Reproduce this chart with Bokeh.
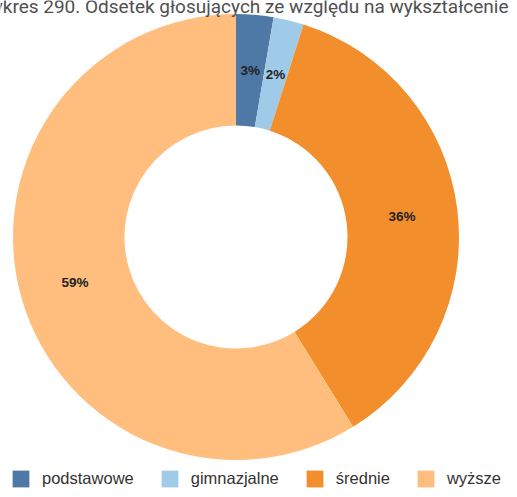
import math
from bokeh.plotting import figure
from bokeh.models import ColumnDataSource, Range1d, Legend, LegendItem
from bokeh.core.properties import value
from bokeh.embed import file_html
from bokeh.resources import INLINE

title_text = "Wykres 290. Odsetek głosujących ze względu na wykształcenie"
categories = ["podstawowe", "gimnazjalne", "średnie", "wyższe"]
shares = [2.7, 2.2, 36.3, 58.8]
colors = ["#4E79A7", "#A0CBE8", "#F28E2B", "#FFBE7D"]

W, H = 509, 489
CX, CY = 235.5, H - 236.5
R_OUT, R_IN = 223, 111.5

total = sum(shares)
starts, ends, lx, ly, labels = [], [], [], [], []
cum = 0.0
r_mid = (R_OUT + R_IN) / 2
for v in shares:
    a0 = math.pi / 2 - 2 * math.pi * cum / total
    cum += v
    a1 = math.pi / 2 - 2 * math.pi * cum / total
    starts.append(a0)
    ends.append(a1)
    am = (a0 + a1) / 2
    lx.append(CX + r_mid * math.cos(am))
    ly.append(CY + r_mid * math.sin(am))
    labels.append(f"{round(v / total * 100)}%")

src = ColumnDataSource(dict(cat=categories, start=starts, end=ends, color=colors,
                            lx=lx, ly=ly, label=labels))

p = figure(width=W, height=H, x_range=Range1d(0, W), y_range=Range1d(0, H),
           output_backend="svg", toolbar_location=None, min_border=0,
           x_axis_location=None, y_axis_location=None)
p.grid.visible = False
p.outline_line_color = None
p.background_fill_color = "white"
p.border_fill_color = "white"

wr = p.annular_wedge(x=CX, y=CY, inner_radius=R_IN, outer_radius=R_OUT,
                     start_angle="start", end_angle="end", direction="clock",
                     fill_color="color", line_color=None, source=src)

p.text(x="lx", y="ly", text="label", source=src, text_align="center",
       text_baseline="middle", text_font=value("Liberation Sans"),
       text_font_size="13.5px", text_font_style="bold", text_color="#222222")

p.text(x=[508], y=[H - 6], text=[title_text], text_align="right",
       text_baseline="alphabetic", text_font=value("Roboto"),
       text_font_size="19px", text_color="#505050")

legend = Legend(items=[LegendItem(label=categories[i], renderers=[wr], index=i)
                       for i in range(len(categories))],
                orientation="horizontal", location=(10, 0),
                glyph_width=21, glyph_height=21, label_standoff=11, spacing=25,
                padding=0, margin=0, border_line_color=None,
                background_fill_alpha=0,
                label_text_font="Liberation Sans", label_text_font_size="16.5px",
                label_text_color="#333333")
p.add_layout(legend, "center")

open("out.html", "w").write(file_html(p, INLINE))
